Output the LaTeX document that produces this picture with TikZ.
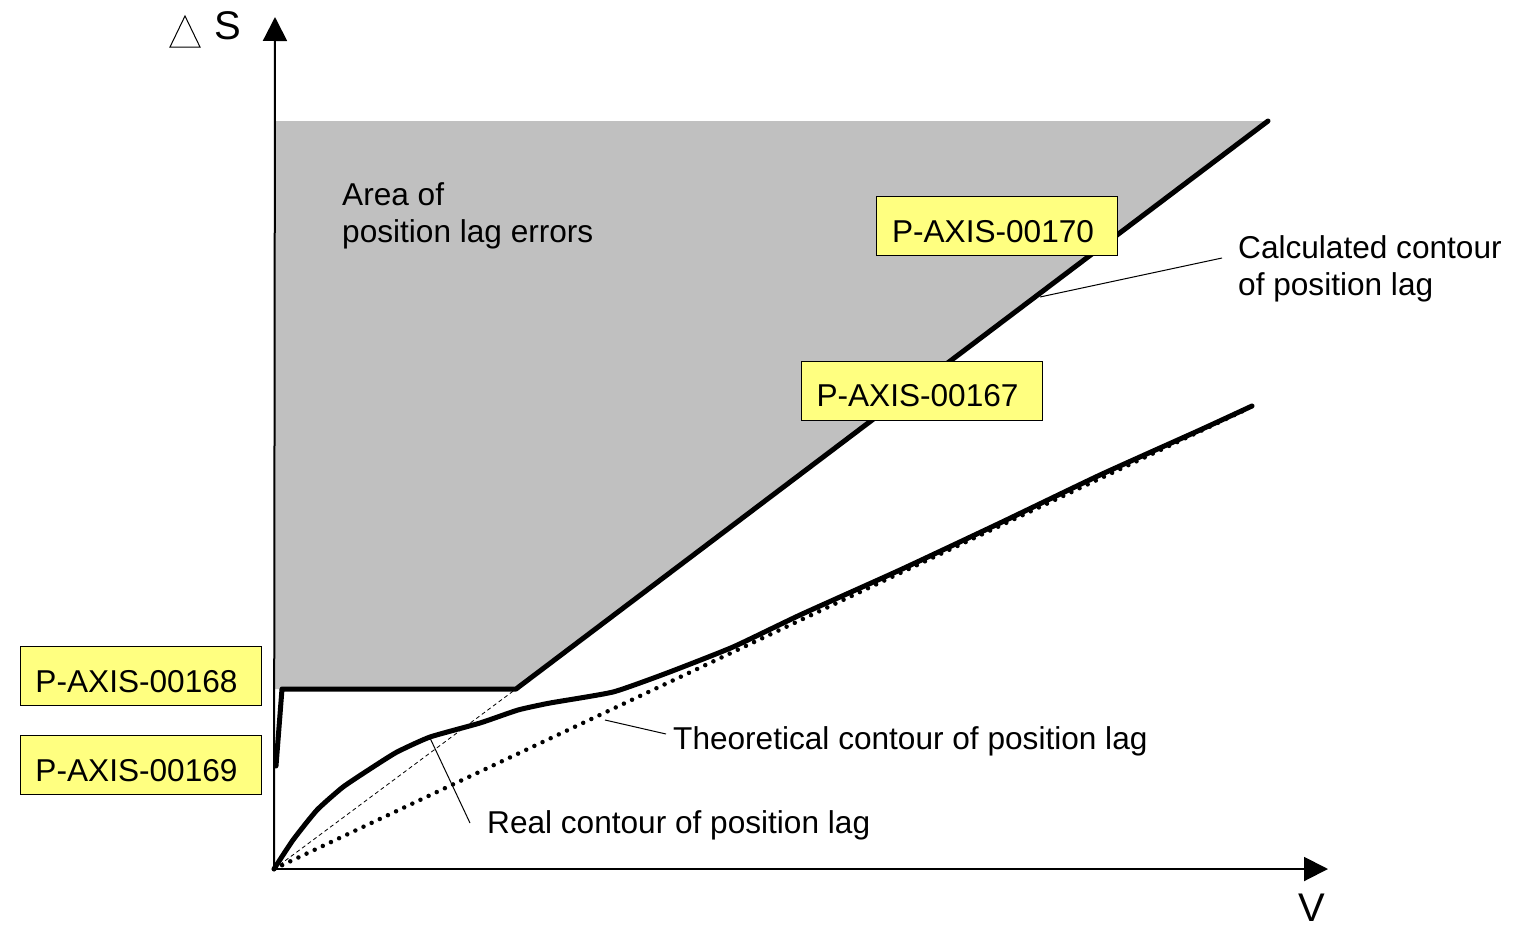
\documentclass[tikz,border=0pt]{standalone}
\usepackage{fontspec}
\setmainfont{Liberation Sans}
\usetikzlibrary{arrows.meta}
\definecolor{boxyellow}{RGB}{255,255,128}
\definecolor{areagray}{RGB}{192,192,192}
\newcommand{\tagtext}[1]{\hspace*{-8pt}#1}
\begin{document}
\begin{tikzpicture}[x=1pt,y=-1pt,
  lbl/.style={font=\fontsize{31.6}{37}\selectfont, inner sep=0pt},
  axlbl/.style={font=\fontsize{40}{44}\selectfont, inner sep=0pt},
  tagbox/.style={draw=black, line width=1pt, fill=boxyellow, font=\fontsize{31.6}{37}\selectfont,
    minimum width=241pt, minimum height=59pt, inner sep=0pt, text height=32pt, text depth=0pt},
  axisline/.style={line width=2pt, -{Triangle[length=24pt,width=24pt]}},
  thick contour/.style={line width=5pt, line join=round, line cap=round},
  leader/.style={line width=1pt},
  theo/.style={line width=4.5pt, line cap=round, dash pattern=on 0pt off 9pt}]
\useasboundingbox (0,0) rectangle (1521,937);

% gray area
\fill[areagray] (274,121) -- (1268,121) -- (516,689) -- (274,689) -- cycle;

% coordinates
\coordinate (O) at (274,869);
\coordinate (ytip) at (275,17);
\coordinate (xtip) at (1328,869);
\coordinate (c1) at (276,766);
\coordinate (c2) at (282,689);
\coordinate (c3) at (516,689);
\coordinate (c4) at (1268,121);
\coordinate (tEnd) at (1245,410);

% axes
\draw[axisline] (O) -- (ytip);
\draw[axisline] (O) -- (xtip);

% thin dashed line from origin to corner
\draw[line width=0.8pt, dash pattern=on 4pt off 3pt] (O) -- (c3);

% theoretical contour (dotted)
\draw[theo] (O) -- (tEnd);

% calculated contour
\draw[thick contour] (c1) -- (c2) -- (c3) -- (c4);

% real contour
\draw[thick contour] plot[smooth, tension=0.3] coordinates {
  (274,869) (293,840) (317,810) (343,787) (373,767) (397,752) (430,737)
  (480,723) (518,710) (550,703) (613,692) (667,673) (733,647) (800,615)
  (900,570) (1000,523) (1100,475) (1200,430) (1252,406)};

% axis labels
\draw[line width=1pt] (170,47) -- (185,16) -- (200,47) -- cycle;
\node[axlbl] (S) at (228,26) {S};
\node[axlbl] (V) at (1312,908) {V};

% area text
\node[lbl, anchor=base west] (area1) at (342,205) {Area of};
\node[lbl, anchor=base west] (area2) at (342,242) {position lag errors};

% tag boxes
\node[tagbox] (t168) at (140.5,676) {\tagtext{P-AXIS-00168}};
\node[tagbox] (t169) at (140.5,765) {\tagtext{P-AXIS-00169}};
\node[tagbox] (t170) at (997,226) {\tagtext{P-AXIS-00170}};
\node[tagbox] (t167) at (921.5,390.5) {\tagtext{P-AXIS-00167}};

% labels with leaders
\node[lbl, anchor=base west] (calc1) at (1238,258) {Calculated contour};
\node[lbl, anchor=base west] (calc2) at (1238,295) {of position lag};
\coordinate (calcA) at (1040,297);
\coordinate (calcB) at (1222,258);
\draw[leader] (calcA) -- (calcB);

\node[lbl, anchor=base west] (theoT) at (673,749) {Theoretical contour of position lag};
\coordinate (theoA) at (605,720);
\coordinate (theoB) at (666,734);
\draw[leader] (theoA) -- (theoB);

\node[lbl, anchor=base west] (realT) at (487,833) {Real contour of position lag};
\coordinate (realA) at (430,738);
\coordinate (realB) at (470,823);
\draw[leader] (realA) -- (realB);
\end{tikzpicture}
\end{document}
